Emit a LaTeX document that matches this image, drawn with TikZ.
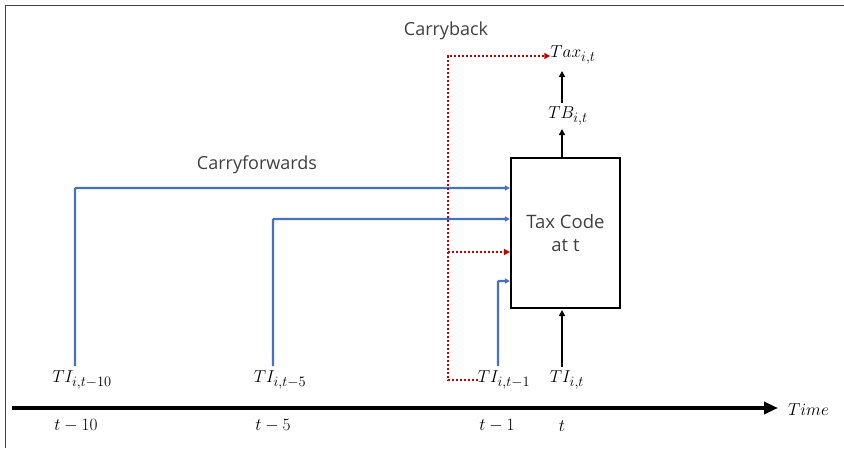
\documentclass[tikz,border=0pt]{standalone}
\usepackage{fontspec}
\setmainfont{Open Sans}
\DeclareMathSizes{18}{18}{13.5}{10}
\usetikzlibrary{arrows.meta,calc}
\definecolor{cfblue}{RGB}{68,114,196}
\definecolor{cbred}{RGB}{200,0,0}
\definecolor{txtgray}{RGB}{64,64,64}
\begin{document}
\begin{tikzpicture}[x=1pt,y=-1pt,
  mathlbl/.style={inner sep=0pt,font=\fontsize{18}{22}\selectfont},
  plainlbl/.style={inner sep=0pt,text=txtgray,font=\fontsize{18}{21}\selectfont},
  codebox/.style={draw=black,line width=2.2pt,minimum width=109pt,minimum height=150pt,inner sep=0pt,align=center,text=txtgray,font=\fontsize{18.5}{23}\selectfont},
  blk/.style={draw=black,line width=2pt,-{Triangle[length=6pt,width=6pt]}},
  blu/.style={draw=cfblue,line width=2.2pt,-{Triangle[length=5pt,width=5pt]}},
  rdot/.style={draw=cbred,line width=2.2pt,dash pattern=on 2pt off 2pt,-{Triangle[length=6pt,width=6pt]}},
  axisline/.style={draw=black,line width=4pt,-{Triangle[length=14pt,width=12pt]}}
]
\useasboundingbox (0,0) rectangle (844,448);
% frame (top and left edges)
\draw[line width=1.5pt,black!75] (5.5,448) -- (5.5,5.5) -- (844,5.5);

% box and outputs
\node[codebox] (box) at (565.5,233) {Tax Code\\at t};
\node[mathlbl] (tb) at (568,116) {$TB_{i,t}$};
\node[mathlbl] (tax) at (573,55) {$Tax_{i,t}$};

% inputs
\node[mathlbl] (ti10) at (82,380) {$TI_{i,t-10}$};
\node[mathlbl] (ti5) at (280,380) {$TI_{i,t-5}$};
\node[mathlbl] (ti1) at (504,380) {$TI_{i,t-1}$};
\node[mathlbl] (ti0) at (567,380) {$TI_{i,t}$};

% axis
\coordinate (axs) at (12,408);
\coordinate (axe) at (778,408);
\node[mathlbl,anchor=west] (time) at (788,410) {$Time$};
\draw[axisline] (axs) -- (axe);
\node[mathlbl] (tm10) at (76,426) {$t-10$};
\node[mathlbl] (tm5) at (273,426) {$t-5$};
\node[mathlbl] (tm1) at (497,426) {$t-1$};
\node[mathlbl] (tm0) at (562,426) {$t$};

% labels
\node[plainlbl] (cf) at (257,165) {Carryforwards};
\node[plainlbl] (cb) at (446,31) {Carryback};

% black arrows
\draw[blk] (562,367) -- (562,310);
\draw[blk] (562,157) -- (562,129);
\draw[blk] (562,103) -- (562,71);

% blue carryforwards
\draw[blu,rounded corners=1pt] (75,366) -- (75,188) -- (box.west |- 0,188);
\draw[blu,rounded corners=1pt] (273,366) -- (273,219) -- (box.west |- 0,219);
\draw[blu,rounded corners=1pt] (498,366) -- (498,281) -- (box.west |- 0,281);

% red carryback
\coordinate (rb) at (448,380);
\coordinate (rt) at (448,56);
\coordinate (rm) at (448,252);
\draw[rdot] (ti1.west) -- (rb) -- (rt) -- (tax.west |- rt);
\draw[rdot] (rm) -- (box.west |- rm);
\end{tikzpicture}
\end{document}
